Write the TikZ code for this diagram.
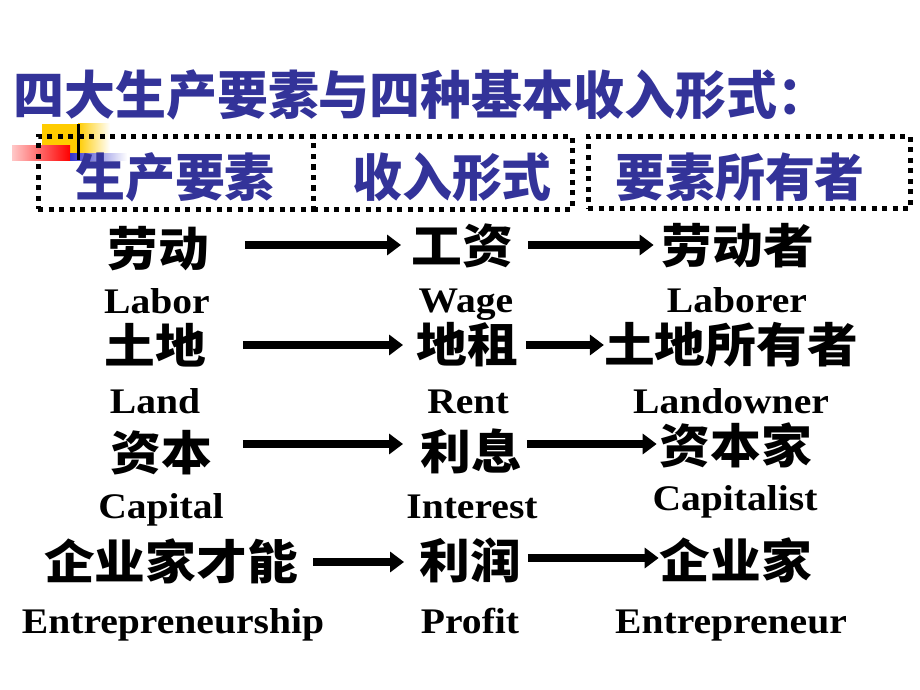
\documentclass[tikz,border=0pt]{standalone}
\usepackage{fontspec}
\usetikzlibrary{arrows.meta}
\newfontfamily\cjkrow[FakeStretch=1.08]{Noto Sans CJK SC}
\newfontfamily\cjktitle[FakeStretch=0.98]{Noto Sans CJK SC}
\newfontfamily\cjkhead[FakeStretch=0.98]{Noto Sans CJK SC}
\newfontfamily\enf[FakeStretch=1.1]{Liberation Serif}
\definecolor{tblue}{RGB}{51,51,153}
\definecolor{dyellow}{RGB}{255,204,0}
\definecolor{dred}{RGB}{255,0,0}
\definecolor{dpink}{RGB}{255,200,200}
\definecolor{dblue}{RGB}{51,51,204}
\tikzset{
  cn/.style={font=\cjkrow\bfseries\fontsize{47}{47}\selectfont, inner sep=0pt, anchor=center},
  en/.style={font=\enf\bfseries\fontsize{36}{36}\selectfont, inner sep=0pt, anchor=base},
  arr/.style={line width=7.5pt, -{Triangle[length=14pt,width=20pt]}},
  hdr/.style={font=\cjkhead\bfseries\fontsize{51}{51}\selectfont, text=tblue, inner sep=0pt, anchor=center},
  ttl/.style={font=\cjktitle\bfseries\fontsize{52}{52}\selectfont, text=tblue, inner sep=0pt, anchor=west},
  dotbox/.style={draw, line width=5pt, dash pattern=on 5pt off 5.5pt, inner sep=0pt},
}
\begin{document}
\begin{tikzpicture}[x=1pt,y=-1pt]
\useasboundingbox (0,0) rectangle (920,690);
\fill[white] (0,0) rectangle (920,690);
% decoration
\fill[dyellow] (42,124) rectangle (78,153);
\shade[left color=dyellow, right color=white] (78,124) rectangle (110,153);
\shade[left color=dpink, right color=dred] (12,145) rectangle (70,160);
\shade[left color=dblue, right color=white] (70,153) rectangle (127,160);
\fill[black] (76.5,124) rectangle (79.5,160);
% title
\node[ttl] (title) at (13,95) {四大生产要素与四种基本收入形式：};
% header boxes
\node[dotbox, minimum width=275pt, minimum height=73pt] (b1) at (175.5,172.5) {};
\node[dotbox, minimum width=259pt, minimum height=73pt] (b2) at (442.5,172.5) {};
\node[dotbox, minimum width=322pt, minimum height=72pt] (b3) at (749,172) {};
\node[hdr] (h1) at (175,177) {生产要素};
\node[hdr] (h2) at (452,177) {收入形式};
\node[hdr] (h3) at (740,177) {要素所有者};
% row coordinates
\coordinate (y1) at (0,245);
\coordinate (y2) at (0,345);
\coordinate (y3) at (0,444);
\coordinate (y4) at (0,562);
\coordinate (y4r) at (0,558);
% row 1
\node[cn] (l1) at (158,249) {劳动};
\node[cn] (m1) at (462,246) {工资};
\node[cn] (r1) at (738,246) {劳动者};
\node[en] (le1) at (157,313) {Labor};
\node[en] (me1) at (466,312) {Wage};
\node[en] (re1) at (737,312) {Laborer};
% row 2
\node[cn] (l2) at (155,345) {土地};
\node[cn] (m2) at (467,345) {地租};
\node[cn] (r2) at (731,345) {土地所有者};
\node[en] (le2) at (155,413) {Land};
\node[en] (me2) at (468,413) {Rent};
\node[en] (re2) at (731,413) {Landowner};
% row 3
\node[cn] (l3) at (161,453) {资本};
\node[cn] (m3) at (471,451) {利息};
\node[cn] (r3) at (736,445) {资本家};
\node[en] (le3) at (161,518) {Capital};
\node[en] (me3) at (472,518) {Interest};
\node[en] (re3) at (735,510) {Capitalist};
% row 4
\node[cn] (l4) at (171,561) {企业家才能};
\node[cn] (m4) at (470,560) {利润};
\node[cn] (r4) at (736,560) {企业家};
\node[en] (le4) at (173,633) {Entrepreneurship};
\node[en] (me4) at (470,633) {Profit};
\node[en] (re4) at (731,633) {Entrepreneur};
% arrows
\draw[arr, shorten <=36pt, shorten >=10pt] (l1.east |- y1) -- (m1.west |- y1);
\draw[arr, shorten <=15pt, shorten >=8pt] (m1.east |- y1) -- (r1.west |- y1);
\draw[arr, shorten <=37pt, shorten >=13pt] (l2.east |- y2) -- (m2.west |- y2);
\draw[arr, shorten <=8pt, shorten >=0pt] (m2.east |- y2) -- (r2.west |- y2);
\draw[arr, shorten <=31pt, shorten >=17pt] (l3.east |- y3) -- (m3.west |- y3);
\draw[arr, shorten <=5pt, shorten >=3pt] (m3.east |- y3) -- (r3.west |- y3);
\draw[arr, shorten <=15pt, shorten >=15pt] (l4.east |- y4) -- (m4.west |- y4);
\draw[arr, shorten <=7pt, shorten >=1pt] (m4.east |- y4r) -- (r4.west |- y4r);
\end{tikzpicture}
\end{document}
